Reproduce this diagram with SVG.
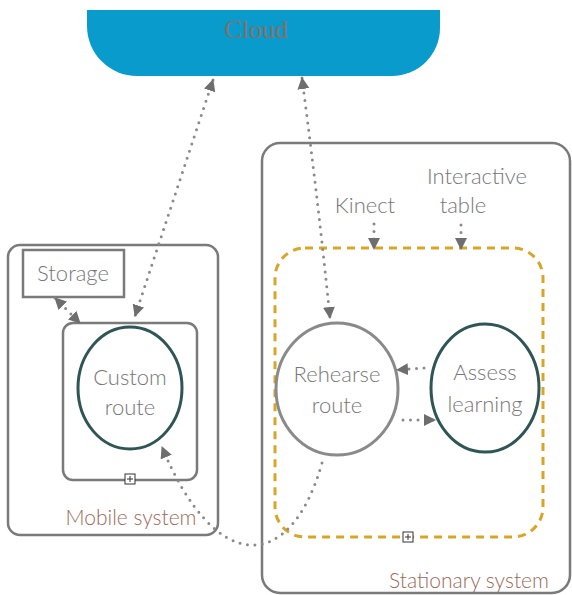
<svg xmlns="http://www.w3.org/2000/svg" width="572" height="595" viewBox="0 0 572 595">
<defs>
<marker id="ah" viewBox="0 0 12 12" refX="11" refY="6" markerWidth="12" markerHeight="12" markerUnits="userSpaceOnUse" orient="auto-start-reverse">
<path d="M0,0 L12,6 L0,12 z" fill="#6e6e6e"/>
</marker>
<style>
.box{fill:none;stroke:#7a7a7a;stroke-width:2.5}
.lbl{font-family:Lato,"Open Sans","DejaVu Sans",sans-serif;font-weight:300;font-size:22px;fill:#777;text-anchor:middle}
.sys{font-family:Lato,"Open Sans","DejaVu Sans",sans-serif;font-weight:300;font-size:21px;fill:#9a6a5a;text-anchor:middle}
.dot{fill:none;stroke:#8a8a8a;stroke-width:3;stroke-linecap:round;stroke-dasharray:0 7.5}
.exp{fill:#fff;stroke:#333;stroke-width:1}
</style>
</defs>
<rect width="572" height="595" fill="#fff"/>
<g id="cloud">
<path d="M87,10 L440,10 L440,28 A48,48 0 0 1 392,76 L137,76 A50,50 0 0 1 87,26 Z" fill="#0a9bcd"/>
<text x="256" y="38" font-family="Liberation Serif,serif" font-size="26" fill="#857068" text-anchor="middle">Cloud</text>
</g>
<g id="mobile-system">
<rect class="box" x="8" y="245" width="210" height="290" rx="12"/>
<text class="sys" x="131" y="525">Mobile system</text>
</g>
<g id="storage">
<rect class="box" x="23" y="250" width="101" height="47"/>
<text class="lbl" x="73" y="281">Storage</text>
</g>
<g id="custom-route-box">
<rect class="box" x="63" y="323" width="134" height="157" rx="10"/>
<rect class="exp" x="125" y="474" width="10" height="10"/>
<path d="M127,479 H133 M130,476 V482" stroke="#333" stroke-width="1"/>
</g>
<g id="custom-route">
<ellipse cx="130" cy="388" rx="52" ry="61" fill="none" stroke="#2f5555" stroke-width="3"/>
<text class="lbl" x="130" y="385">Custom</text>
<text class="lbl" x="130" y="415">route</text>
</g>
<g id="stationary-system">
<rect class="box" x="262" y="143" width="308" height="450" rx="18"/>
<text class="sys" x="469" y="588">Stationary system</text>
</g>
<g id="stationary-group">
<rect x="275" y="248" width="268" height="289" rx="30" fill="none" stroke="#d9a528" stroke-width="3" stroke-dasharray="8 6"/>
<rect class="exp" x="403" y="532" width="10" height="10"/>
<path d="M405,537 H411 M408,534 V540" stroke="#333" stroke-width="1"/>
</g>
<g id="kinect">
<text class="lbl" x="365" y="213">Kinect</text>
</g>
<g id="interactive-table">
<text class="lbl" x="477" y="184">Interactive</text>
<text class="lbl" x="463" y="213">table</text>
</g>
<g id="rehearse-route">
<ellipse cx="337" cy="389" rx="61" ry="66" fill="none" stroke="#8a8a8a" stroke-width="3"/>
<text class="lbl" x="337" y="382">Rehearse</text>
<text class="lbl" x="337" y="413">route</text>
</g>
<g id="assess-learning">
<ellipse cx="485" cy="388" rx="54" ry="64" fill="none" stroke="#2f5555" stroke-width="3"/>
<text class="lbl" x="485" y="380">Assess</text>
<text class="lbl" x="485" y="412">learning</text>
</g>
<g id="connectors">
<path class="dot" d="M213,80 L135,316" marker-start="url(#ah)" marker-end="url(#ah)"/>
<path class="dot" d="M302,78 Q318,200 330,318" marker-start="url(#ah)" marker-end="url(#ah)"/>
<path class="dot" d="M55,298 L80,323" marker-start="url(#ah)" marker-end="url(#ah)"/>
<path class="dot" d="M322,463 C290,575 215,575 162,447" marker-end="url(#ah)"/>
<path class="dot" d="M374,224 L374,249" marker-end="url(#ah)"/>
<path class="dot" d="M461,225 L461,249" marker-end="url(#ah)"/>
<path class="dot" d="M424,368 L397,370" marker-end="url(#ah)"/>
<path class="dot" d="M403,420 L435,420" marker-end="url(#ah)"/>
</g>
</svg>
